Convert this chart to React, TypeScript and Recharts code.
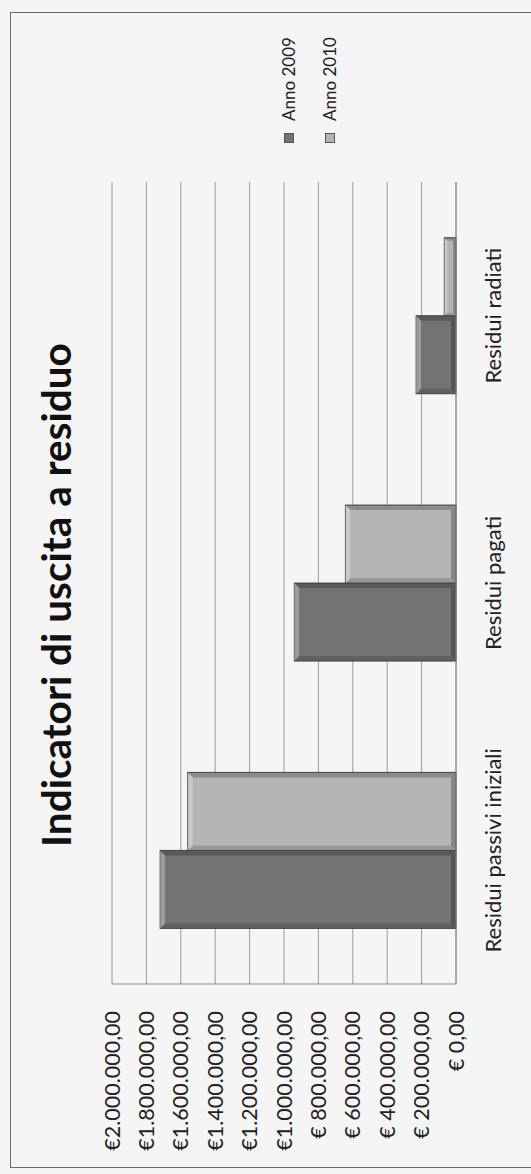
import React from 'react';
import { BarChart, Bar, XAxis, YAxis, CartesianGrid, Legend } from 'recharts';

const CATEGORIES = ['Residui passivi iniziali', 'Residui pagati', 'Residui radiati'];
const ANNO_2009 = [1720000, 940000, 232000];
const ANNO_2010 = [1560000, 643000, 68000];
const SERIES = ['Anno 2009', 'Anno 2010'];
const TICKS = [0, 200000, 400000, 600000, 800000, 1000000, 1200000, 1400000, 1600000, 1800000, 2000000];
const TICK_LABELS = [
    '€ 0,00',
    '€ 200.000,00',
    '€ 400.000,00',
    '€ 600.000,00',
    '€ 800.000,00',
    '€1.000.000,00',
    '€1.200.000,00',
    '€1.400.000,00',
    '€1.600.000,00',
    '€1.800.000,00',
    '€2.000.000,00',
];
const TITLE = 'Indicatori di uscita a residuo';

const data = CATEGORIES.map((name, i) => ({ name, a2009: ANNO_2009[i], a2010: ANNO_2010[i] }));

const FONT = 'Lato, "Open Sans", sans-serif';
const PAGE_W = 531;
const PAGE_H = 1174;
// chart is drawn upright, then turned a quarter left like the scanned page
const CHART_W = PAGE_H;
const CHART_H = PAGE_W;

const BevelBar = (props: any) => {
    const { x, y, width, height, fill } = props;
    if (!height || height <= 0) return null;
    const b = Math.min(5, width / 4, height / 4);
    return (
        <g>
            <rect x={x} y={y} width={width} height={height} fill={fill} stroke="#4a4a4a" strokeWidth={1} />
            <polygon
                points={`${x},${y} ${x + width},${y} ${x + width - b},${y + b} ${x + b},${y + b}`}
                fill="#ffffff"
                fillOpacity={0.3}
            />
            <polygon
                points={`${x},${y} ${x + b},${y + b} ${x + b},${y + height - b} ${x},${y + height}`}
                fill="#000000"
                fillOpacity={0.15}
            />
            <polygon
                points={`${x + width},${y} ${x + width - b},${y + b} ${x + width - b},${y + height - b} ${x + width},${y + height}`}
                fill="#000000"
                fillOpacity={0.22}
            />
            <polygon
                points={`${x},${y + height} ${x + b},${y + height - b} ${x + width - b},${y + height - b} ${x + width},${y + height}`}
                fill="#000000"
                fillOpacity={0.25}
            />
        </g>
    );
};

const LegendContent = (props: any) => {
    const { payload = [] } = props;
    return (
        <div style={{ fontFamily: FONT, fontSize: 17, color: '#222' }}>
            {payload.map((p: any) => (
                <div key={p.value} style={{ display: 'flex', alignItems: 'center', height: 41 }}>
                    <span
                        style={{
                            display: 'inline-block',
                            width: 10,
                            height: 10,
                            background: p.color,
                            border: '1px solid #555',
                            marginRight: 12,
                            boxSizing: 'border-box',
                        }}
                    />
                    {p.value}
                </div>
            ))}
        </div>
    );
};

export default function App() {
    return (
        <div
            style={{
                position: 'absolute',
                left: 0,
                top: 0,
                width: PAGE_W,
                height: PAGE_H,
                overflow: 'hidden',
                background: '#f5f5f5',
            }}
        >
            <div
                style={{
                    position: 'absolute',
                    left: 0,
                    top: 0,
                    width: CHART_W,
                    height: CHART_H,
                    transformOrigin: '0 0',
                    transform: `translate(0px, ${PAGE_H}px) rotate(-90deg)`,
                }}
            >
                <div
                    style={{
                        position: 'absolute',
                        left: 6,
                        top: 10,
                        width: 1156,
                        height: 560,
                        border: '1.5px solid #6a6a6a',
                        boxSizing: 'border-box',
                    }}
                />
                <BarChart
                    width={CHART_W}
                    height={CHART_H}
                    data={data}
                    margin={{ top: 112, right: 182, left: 0, bottom: 0 }}
                    barCategoryGap="20.8%"
                    barGap={0}
                >
                    <text
                        x={579}
                        y={71}
                        textAnchor="middle"
                        fontSize={40.5}
                        fontWeight="bold"
                        fontFamily={FONT}
                        fill="#111"
                    >
                        {TITLE}
                    </text>
                    <CartesianGrid vertical={false} stroke="#9a9a9a" />
                    <XAxis
                        dataKey="name"
                        interval={0}
                        height={75}
                        tickLine={false}
                        axisLine={{ stroke: '#8a8a8a' }}
                        tickMargin={23}
                        tick={{ fontSize: 22, fill: '#222', fontFamily: FONT }}
                    />
                    <YAxis
                        domain={[0, 2000000]}
                        ticks={TICKS}
                        width={190}
                        tickLine={false}
                        axisLine={{ stroke: '#8a8a8a' }}
                        tickMargin={21}
                        tickFormatter={(v: number) => TICK_LABELS[TICKS.indexOf(v)]}
                        tick={{ fontSize: 21.5, fill: '#222', fontFamily: FONT }}
                    />
                    <Legend
                        layout="vertical"
                        align="center"
                        verticalAlign="middle"
                        content={<LegendContent />}
                        wrapperStyle={{ left: 1031, top: 268, width: 130 }}
                    />
                    <Bar dataKey="a2009" name={SERIES[0]} fill="#727272" shape={<BevelBar />} isAnimationActive={false} />
                    <Bar dataKey="a2010" name={SERIES[1]} fill="#b4b4b4" shape={<BevelBar />} isAnimationActive={false} />
                </BarChart>
            </div>
        </div>
    );
}
